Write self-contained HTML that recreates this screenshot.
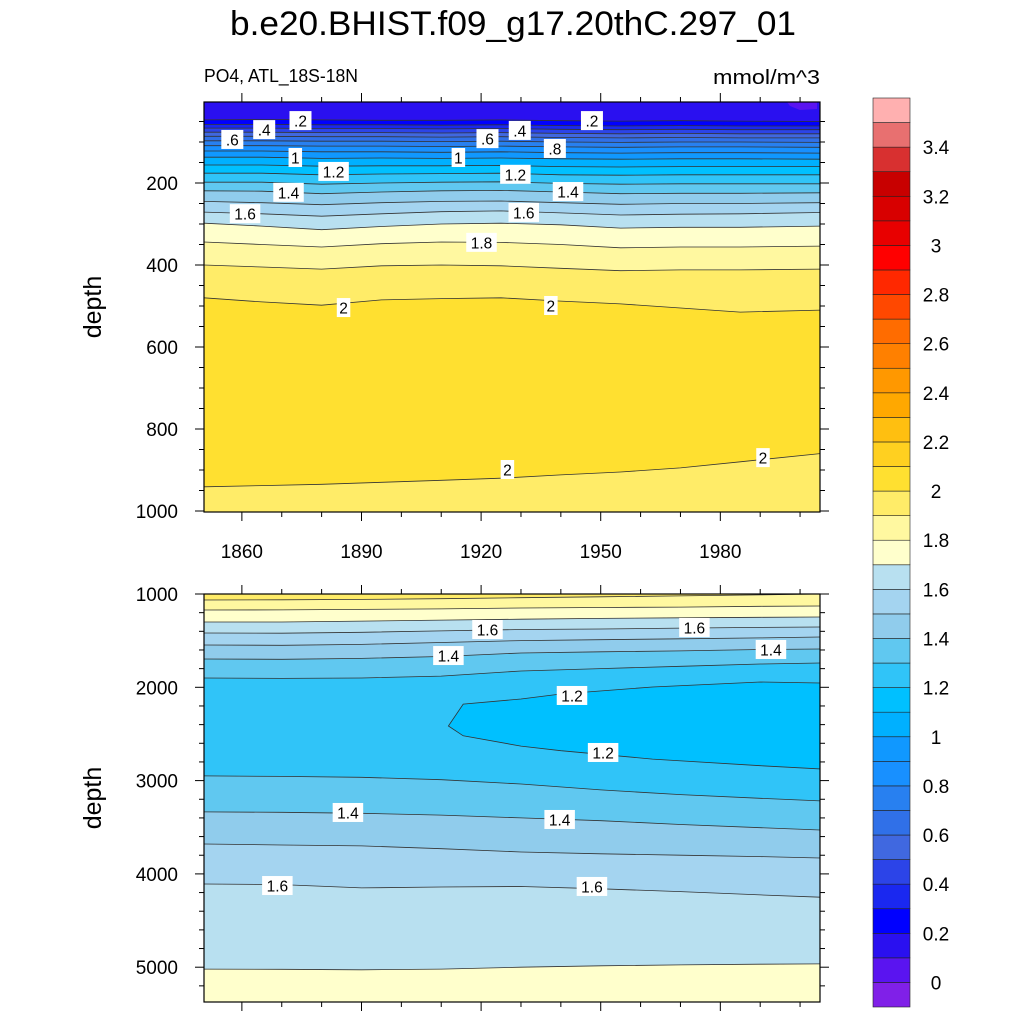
<!DOCTYPE html>
<html><head><meta charset="utf-8"><style>
body{margin:0;background:#fff;}
svg{display:block;font-family:"Liberation Sans",Arial,sans-serif;}
</style></head><body>
<svg id="chart" width="1024" height="1024" viewBox="0 0 1024 1024" xmlns="http://www.w3.org/2000/svg">
<text x="513" y="35" font-size="34" text-anchor="middle" textLength="566" lengthAdjust="spacingAndGlyphs">b.e20.BHIST.f09_g17.20thC.297_01</text>
<text x="204" y="82" font-size="18" textLength="154" lengthAdjust="spacingAndGlyphs">PO4, ATL_18S-18N</text>
<text x="713" y="84" font-size="20" textLength="107" lengthAdjust="spacingAndGlyphs">mmol/m^3</text>
<text transform="translate(101,307) rotate(-90)" font-size="25" text-anchor="middle">depth</text>
<text transform="translate(101,798) rotate(-90)" font-size="25" text-anchor="middle">depth</text>
<g id="gTop"></g>
<g id="gBot"></g>
<g id="gBar"></g>
</svg>
<script>
const colors=["#8020e8","#5a14f0","#2a10f0","#0000ff","#1a28f0","#2c44e8","#4068e0","#3070e8","#2880f0","#1890ff","#1098ff","#00b0ff","#00c0ff","#30c4f8","#60c8f0","#90ccec","#a4d4f0","#b8e0f0","#ffffcc","#fff8a0","#ffec68","#ffe030","#ffd020","#ffbf10","#ffa800","#ff9800","#ff8000","#ff6c00","#ff4800","#ff2800","#ff0000","#e80000","#d80000","#c80000","#d83030","#e87070","#ffb0b0"];
const barLabels=["0","0.2","0.4","0.6","0.8","1","1.2","1.4","1.6","1.8","2","2.2","2.4","2.6","2.8","3","3.2","3.4"];
const years=[1850,1865,1880,1895,1910,1925,1940,1955,1970,1985,2005];
const topLevels=[0.2,0.3,0.4,0.5,0.6,0.7,0.8,0.9,1.0,1.1,1.2,1.3,1.4,1.5,1.6,1.7,1.8,1.9,2.0];
const topDepths=[
[46,45,46,47,47,46,48,49,48,49,50],
[57,57,58,58,59,58,60,61,60,61,61],
[66,66,67,67,68,67,69,70,69,70,70],
[76,76,77,77,78,77,79,80,79,80,80],
[86,86,87,87,88,87,89,90,89,90,90],
[97,97,98,98,99,98,100,101,100,100,101],
[109,109,110,110,111,110,112,113,112,112,113],
[122,122,124,124,125,124,126,127,126,126,127],
[137,137,140,139,140,139,141,142,141,141,142],
[156,156,159,158,158,157,160,161,160,160,160],
[176,176,180,178,177,176,180,181,180,180,180],
[198,198,203,200,198,197,201,203,202,202,202],
[219,220,226,222,219,218,222,226,225,225,224],
[245,248,253,248,245,244,248,252,250,250,248],
[271,275,281,275,270,268,273,278,276,275,272],
[298,305,314,306,300,298,302,310,308,308,305],
[344,350,356,348,344,345,350,358,356,356,354],
[400,405,410,402,400,402,408,414,412,412,410],
[480,490,498,485,482,480,488,495,505,515,510]];
const topLower2=[941,938,935,930,925,920,912,905,895,880,860];
const botYears=[1850,1870,1890,1910,1930,1950,1970,1990,2005];
const botUpperLevels=[1.3,1.4,1.5,1.6,1.7,1.8,1.9];
const botUpperDepths=[
[1900,1905,1900,1880,1825,1800,1775,1750,1740],
[1697,1700,1690,1670,1632,1620,1610,1595,1590],
[1547,1550,1540,1520,1500,1490,1480,1470,1461],
[1418,1420,1410,1395,1380,1375,1365,1358,1354],
[1300,1300,1290,1280,1270,1262,1255,1250,1246],
[1171,1170,1165,1160,1150,1145,1140,1132,1129],
[1064,1062,1058,1050,1040,1030,1020,1010,1000]];
const botLowerLevels=[1.3,1.4,1.5,1.6,1.7];
const botLowerDepths=[
[2950,2955,2965,2990,3036,3100,3150,3190,3218],
[3336,3340,3350,3370,3400,3430,3470,3505,3530],
[3680,3690,3700,3730,3765,3785,3800,3815,3830],
[4108,4115,4150,4140,4135,4160,4190,4225,4250],
[5020,5022,5028,5020,5000,4985,4975,4968,4965]];
const lowYears=[1911.8,1915.5,1930,1940,1963,1990,2005];
const lowUpper=[2415,2180,2125,2072,1997,1943,1954];
const lowLower=[2415,2520,2630,2680,2770,2840,2875];
const topLabelText=[".2",".4",".6","1","1.2","1.4","1.6",".6",".4",".2","1",".8","1.2","1.4","1.6","1.8","2","2","2","2"];
const topLabelYear=[1874.7,1865.6,1857.6,1873.4,1883,1871.7,1860.8,1921.6,1929.7,1947.8,1914.3,1938.5,1928.6,1941.8,1930.7,1920.1,1885.5,1937.5,1926.6,1990.7];
const topLabelDepth=[49,71,95,139,173,224,276,93,73,49,139,117,180,222,273,346,505,500,900,871];
const botLabelText=["1.6","1.6","1.4","1.4","1.2","1.2","1.4","1.4","1.6","1.6"];
const botLabelYear=[1921.6,1973.5,1911.8,1992.7,1942.8,1950.6,1886.6,1939.7,1868.9,1947.8];
const botLabelDepth=[1386,1364,1665,1600,2093,2704,3347,3422,4130,4140];
const topYTicks=[200,400,600,800,1000];
const botYTicks=[1000,2000,3000,4000,5000];
const xTicks=[1860,1890,1920,1950,1980];

const NS="http://www.w3.org/2000/svg";
function mk(tag,attrs,parent){const e=document.createElementNS(NS,tag);for(const k in attrs)e.setAttribute(k,attrs[k]);parent.appendChild(e);return e;}
const X0=204,X1=820;
const xs=y=>X0+(y-1850.5)/(2005-1850.5)*(X1-X0);
const ysTop=d=>101+d*0.41;
const ysBot=d=>594+(d-1000)*0.0933;
const TOP0=102,TOP1=512,BOT0=594,BOT1=1002;
function clampX(yr){return Math.min(X1,Math.max(X0,xs(yr)));}
function pts(yrs,ds,ys){return yrs.map((y,i)=>clampX(y).toFixed(1)+","+ys(ds[i]).toFixed(1));}

const gT=document.getElementById('gTop');
let r=mk('rect',{x:X0,y:TOP0,width:X1-X0,height:TOP1-TOP0,fill:colors[21]},gT);


for(let i=topLevels.length-1;i>=0;i--){
  const p=pts(years,topDepths[i],ysTop);
  const poly=mk('polygon',{points:X0+","+TOP0+" "+p.join(" ")+" "+X1+","+TOP0,fill:colors[Math.round(topLevels[i]*10)]},gT);
  
  
}
{const p=pts(years,topLower2,ysTop);
 const poly=mk('polygon',{points:p.join(" ")+" "+X1+","+TOP1+" "+X0+","+TOP1,fill:colors[20]},gT);
 
 }
{const poly=mk('polygon',{points:"787,102 817,102 817,109 800,110 790,106",fill:colors[1]},gT);
 
 }
for(let i=0;i<topLevels.length;i++){
  const l=mk('polyline',{points:pts(years,topDepths[i],ysTop).join(" "),fill:"none",stroke:"#333",'stroke-width':0.8},gT);
  
  
}
{const l=mk('polyline',{points:pts(years,topLower2,ysTop).join(" "),fill:"none",stroke:"#333",'stroke-width':0.8},gT);
 
 }
function labels(g,txt,yr,dp,ys,pref){
  for(let i=0;i<txt.length;i++){
    const x=xs(yr[i]),y=ys(dp[i]);const w=txt[i].length*8.5+5;
    const b=mk('rect',{x:x-w/2,y:y-10,width:w,height:19,fill:"#fff"},g);
    
    
    const t=mk('text',{x:x,y:y+5.5,'font-size':15.5,'text-anchor':'middle'},g);
    t.textContent=txt[i];
    
    
  }
}
labels(gT,topLabelText,topLabelYear,topLabelDepth,ysTop,'top');

const gB=document.getElementById('gBot');
r=mk('rect',{x:X0,y:BOT0,width:X1-X0,height:BOT1-BOT0,fill:colors[13]},gB);


for(let i=0;i<botUpperLevels.length;i++){
  const p=pts(botYears,botUpperDepths[i],ysBot);
  const poly=mk('polygon',{points:X0+","+BOT0+" "+p.join(" ")+" "+X1+","+BOT0,fill:colors[Math.round(botUpperLevels[i]*10)+1]},gB);
  
  
}
for(let i=0;i<botLowerLevels.length;i++){
  const p=pts(botYears,botLowerDepths[i],ysBot);
  const poly=mk('polygon',{points:p.join(" ")+" "+X1+","+BOT1+" "+X0+","+BOT1,fill:colors[Math.round(botLowerLevels[i]*10)+1]},gB);
  
  
}
{const up=pts(lowYears,lowUpper,ysBot),lo=pts(lowYears,lowLower,ysBot).reverse();
 const poly=mk('polygon',{points:up.join(" ")+" "+lo.join(" "),fill:colors[12],stroke:"#333",'stroke-width':0.8},gB);
 
 }
[[botUpperLevels,botUpperDepths,'upper'],[botLowerLevels,botLowerDepths,'lower']].forEach(([lv,dd,n])=>{
  for(let i=0;i<lv.length;i++){
    const l=mk('polyline',{points:pts(botYears,dd[i],ysBot).join(" "),fill:"none",stroke:"#333",'stroke-width':0.8},gB);
    
    
  }
});
labels(gB,botLabelText,botLabelYear,botLabelDepth,ysBot,'bottom');

function frame(g,y0,y1,ys,majors,minorStep,dmin,dmax,showX,pref){
  const f=mk('rect',{x:X0,y:y0,width:X1-X0,height:y1-y0,fill:"none",stroke:"#000",'stroke-width':1.2},g);
  
  
  for(let d=Math.ceil(dmin/minorStep)*minorStep;d<=dmax;d+=minorStep){
    const y=ys(d);if(y<y0-0.5||y>y1+0.5)continue;
    const maj=majors.includes(d);const L=maj?9:5;
    const t1=mk('line',{x1:X0,x2:X0-L,y1:y,y2:y,stroke:"#000",'stroke-width':1},g);
    
    
    const t2=mk('line',{x1:X1,x2:X1+L,y1:y,y2:y,stroke:"#000",'stroke-width':1},g);
    
    
    if(maj){const t=mk('text',{x:X0-26,y:y+7,'font-size':19,'text-anchor':'end'},g);t.textContent=d;
      
      }
  }
  for(let yr=1860;yr<=2000;yr+=10){
    const x=xs(yr);const maj=xTicks.includes(yr);const L=maj?9:5;
    const a=mk('line',{x1:x,x2:x,y1:y1,y2:y1+L,stroke:"#000",'stroke-width':1},g);
    
    
    const b=mk('line',{x1:x,x2:x,y1:y0,y2:y0-L,stroke:"#000",'stroke-width':1},g);
    
    
    if(maj&&showX){const t=mk('text',{x:x,y:y1+46,'font-size':19,'text-anchor':'middle'},g);t.textContent=yr;
      
      }
  }
}
frame(gT,TOP0,TOP1,ysTop,topYTicks,50,0,1000,true,'top');
frame(gB,BOT0,BOT1,ysBot,botYTicks,200,1000,5400,false,'bottom');

const gC=document.getElementById('gBar');
const CB0=98,CB1=1007,CX=873,CW=37,bh=(CB1-CB0)/colors.length;
colors.forEach((c,i)=>{
  const y=CB1-(i+1)*bh;
  const b=mk('rect',{x:CX,y:y,width:CW,height:bh,fill:c,stroke:"#222",'stroke-width':0.6},gC);
  
  
});
barLabels.forEach((s,i)=>{
  const y=CB1-bh-(i*2)*bh;
  const t=mk('text',{x:936,y:y+7,'font-size':19,'text-anchor':'middle'},gC);t.textContent=s;
  
  
});
</script>
</body></html>
